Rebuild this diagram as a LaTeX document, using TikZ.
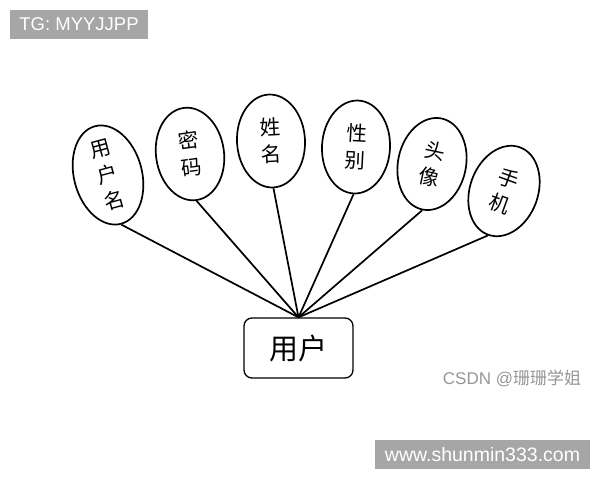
\documentclass[tikz,border=0pt]{standalone}
\usepackage{fontspec}
\setsansfont{Liberation Sans}
\newfontfamily\cjk{Noto Sans CJK SC}
\usetikzlibrary{shapes.geometric}
\usetikzlibrary{positioning}
\definecolor{wmgray}{RGB}{166,166,166}
\definecolor{csdngray}{RGB}{150,150,150}

\begin{document}
\begin{tikzpicture}[x=1pt, y=-1pt]
 \tikzstyle{attr}=[ellipse, draw, line width=1.7pt, minimum width=68pt, minimum height=93pt, inner sep=0pt, align=center, font=\cjk\fontsize{20.5}{27}\selectfont]
 \tikzstyle{entity}=[rectangle, rounded corners=8pt, draw, line width=1.3pt, minimum width=109pt, minimum height=60pt, font=\cjk\fontsize{29}{30}\selectfont]
 \tikzstyle{tagbox}=[rectangle, fill=wmgray, text=white, inner sep=0pt, font=\sffamily\fontsize{18.5}{20}\selectfont]
 \tikzstyle{line} = [draw, line width=1.7pt]

 \useasboundingbox (0,0) rectangle (600,480);

 % entity
 \draw (298.5,348) node[entity] (user) {用户};

 % attributes
 \draw (108,175) node[attr, rotate=15] (uname) {用\\户\\名};
 \draw (190,154) node[attr, rotate=8] (pwd) {密\\码};
 \draw (271,141) node[attr, rotate=3] (rname) {姓\\名};
 \draw (356,147) node[attr, rotate=-3] (sex) {性\\别};
 \draw (432,164) node[attr, rotate=-12] (avatar) {头\\像};
 \draw (504,191) node[attr, rotate=-20] (phone) {手\\机};

 \path [line] (uname.south) -- (user.north);
 \path [line] (pwd.south) -- (user.north);
 \path [line] (rname.south) -- (user.north);
 \path [line] (sex.south) -- (user.north);
 \path [line] (avatar.south) -- (user.north);
 \path [line] (phone.south) -- (user.north);

 % watermarks
 \draw (79,24.5) node[tagbox, minimum width=138pt, minimum height=29pt] (tg) {TG: MYYJJPP};
 \draw (482.5,454.5) node[tagbox, minimum width=215pt, minimum height=29pt, font=\sffamily\fontsize{19.5}{20}\selectfont] (site) {www.shunmin333.com};
 \draw (512,378) node[text=csdngray, font=\sffamily\fontsize{17}{20}\selectfont] (csdn) {CSDN @{\cjk 珊珊学姐}};

\end{tikzpicture}
\end{document}
